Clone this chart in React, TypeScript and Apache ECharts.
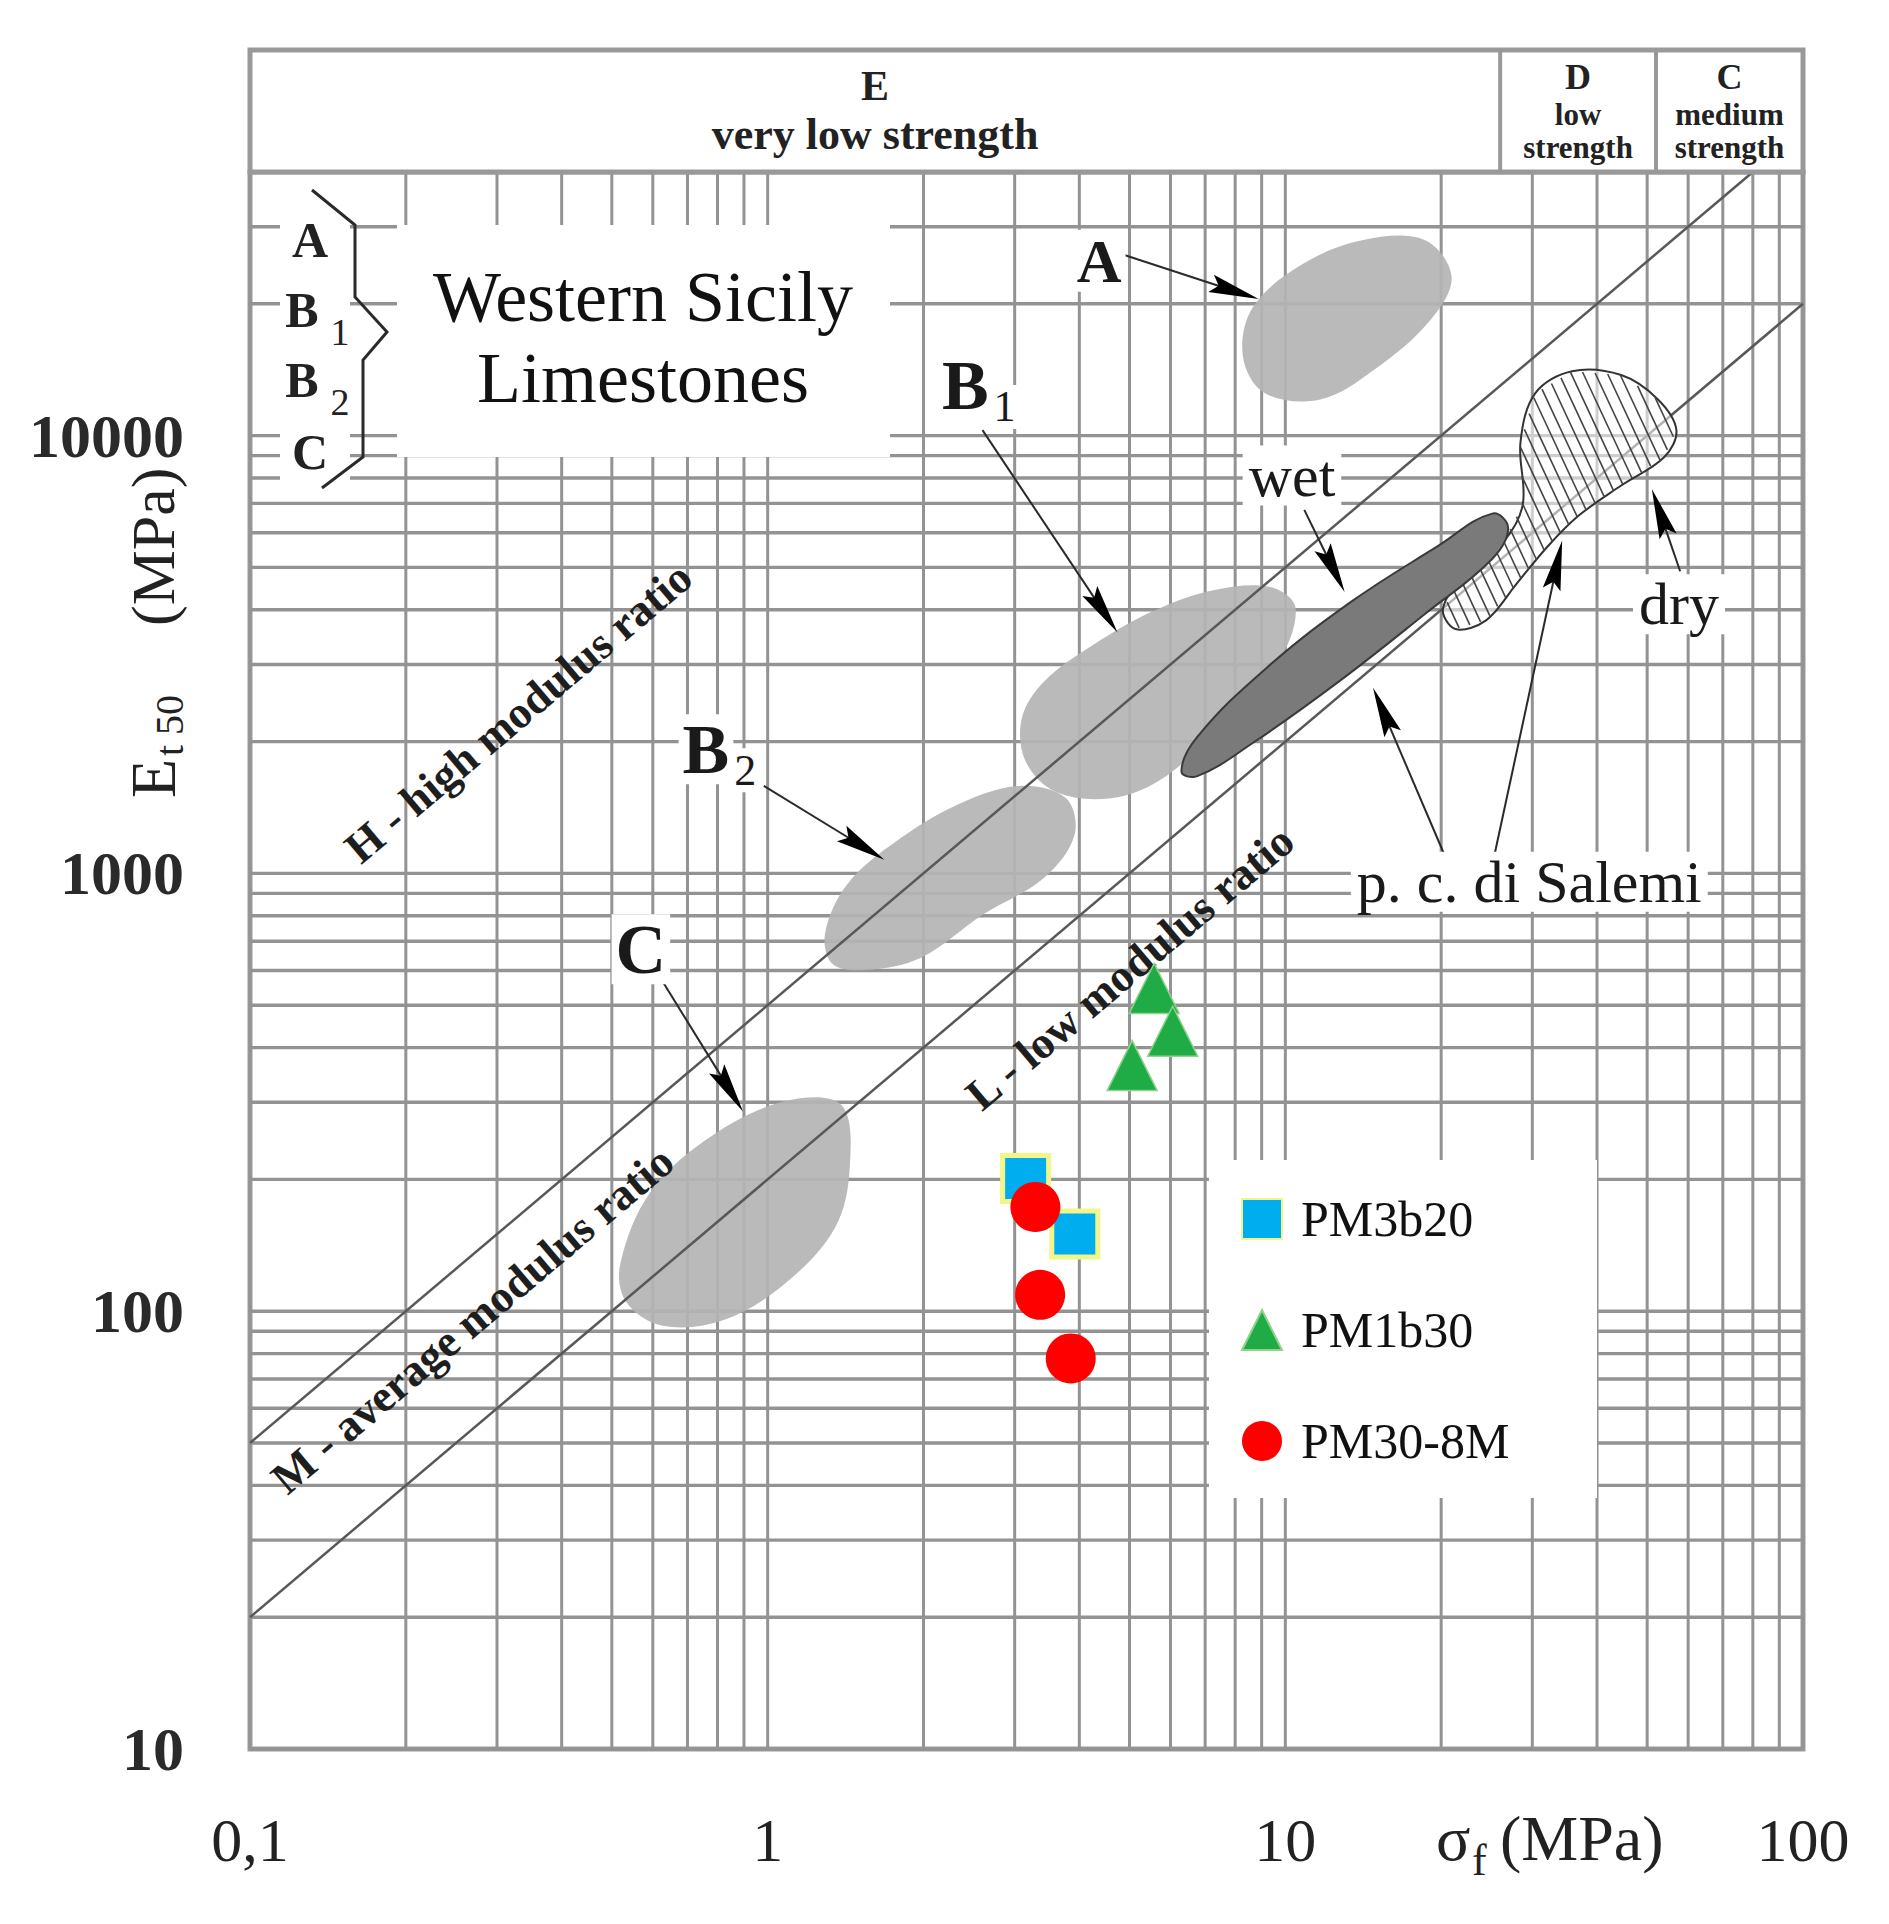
import React, { useEffect, useRef } from 'react';
import * as echarts from 'echarts';

const SERIF = '"Liberation Serif", "Times New Roman", serif';

// ---------------- data ----------------
const SERIES_NAMES = ['PM3b20', 'PM1b30', 'PM30-8M'];
const PM3B20_STRENGTH = [3.15, 3.92];
const PM3B20_MODULUS = [201, 150];
const PM1B30_STRENGTH = [5.58, 6.06, 5.06];
const PM1B30_MODULUS = [546, 436, 364];
const PM308M_STRENGTH = [3.29, 3.36, 3.85];
const PM308M_MODULUS = [173, 109, 78];

const X_TICK_VALUES = [0.1, 1, 10, 100];
const X_TICK_LABELS = ['0,1', '1', '10', '100'];
const Y_TICK_VALUES = [10, 100, 1000, 10000];
const Y_TICK_LABELS = ['10', '100', '1000', '10000'];
const X_DECADES = [0.1, 1, 10];
const Y_DECADES = [10, 100, 1000, 10000];
const MINOR_STEPS = [1, 2, 3, 4, 5, 6, 7, 8, 9];
const X_MIN = 0.1;
const X_MAX = 100;
const Y_MIN = 10;
const Y_MAX = 40000;

const MODULUS_RATIOS = [500, 200]; // H|M and M|L boundaries (E / sigma)
const STRENGTH_LIMITS = [26, 52]; // E|D and D|C class boundaries (MPa)
const STRENGTH_CLASSES = [
  { letter: 'E', lines: ['very low strength'] },
  { letter: 'D', lines: ['low', 'strength'] },
  { letter: 'C', lines: ['medium', 'strength'] },
];

// zone outlines as (sigma MPa, E MPa)
const ZONE_A = [[8.65, 19620], [10.76, 24580], [14.14, 27970], [18.58, 27970], [20.95, 23050], [19.09, 18390], [14.94, 14210], [11.68, 12090], [9.13, 12490], [8.28, 15150]];
const ZONE_B1 = [[3.096, 2258], [3.416, 2741], [4.25, 3325], [5.585, 3986], [7.34, 4447], [9.39, 4505], [10.47, 4036], [9.65, 3019], [7.14, 2050], [5.74, 1636], [4.61, 1485], [3.61, 1534], [3.15, 1802]];
const ZONE_B2 = [[1.291, 730], [1.425, 945], [1.774, 1185], [2.33, 1437], [3.063, 1584], [3.77, 1485], [3.915, 1224], [3.416, 976], [2.6, 804], [1.978, 642], [1.547, 602], [1.335, 621]];
const ZONE_C = [[0.519, 128], [0.595, 188], [0.782, 252], [1.084, 302], [1.387, 296], [1.441, 214], [1.349, 155], [1.084, 116], [0.825, 95.6], [0.628, 92.6], [0.533, 105]];
const ZONE_WET = [[6.3, 1711], [6.76, 2050], [9.13, 2924], [13.39, 4169], [19.63, 5574], [25.09, 6634], [26.94, 6139], [25.09, 5226], [18.58, 3908], [12.68, 2741], [8.65, 1985], [6.76, 1668]];
const ZONE_DRY = [[20.17, 4036], [22.5, 4899], [26.5, 5757], [28.77, 6987], [28.46, 9646], [30.38, 12490], [35.8, 14030], [44.54, 13750], [52.47, 12090], [56.94, 10290], [53.9, 8925], [44.54, 7692], [36.78, 6549], [32.08, 5574], [27.99, 4592], [24.42, 3784], [21.3, 3617]];
const LIGHT_ZONES = [ZONE_A, ZONE_B1, ZONE_B2, ZONE_C];

// annotation arrows (from -> to), in (sigma, E)
const ARROW_FROM = [[4.87, 25890], [2.6, 10290], [0.983, 1584], [0.628, 564], [10.88, 6765], [57.9, 4899], [20.72, 1041], [25.09, 1041]];
const ARROW_TO = [[8.88, 20520], [4.74, 3548], [1.68, 1075], [0.896, 286], [13.02, 4390], [51.05, 7548], [14.77, 2654], [34.26, 5757]];

// zone labels
const LABEL_TEXT = ['A', 'B', 'B', 'C', 'wet', 'dry', 'p. c. di Salemi'];
const LABEL_SUB = ['', '1', '2', '', '', '', ''];
const LABEL_AT = [[4.37, 25070], [2.408, 12980], [0.76, 1922], [0.569, 671], [10.3, 8104], [57.6, 4116], [29.6, 957]];

const RATIO_LABEL_TEXT = ['H - high modulus ratio', 'M - average modulus ratio', 'L - low modulus ratio'];
const RATIO_LABEL_AT = [[0.33, 2332], [0.269, 95.6], [5.01, 609]];

// ---------------- helpers ----------------
const X_GRID = X_DECADES.flatMap((d) => MINOR_STEPS.map((k) => k * d)).concat([X_MAX]);
const Y_GRID = Y_DECADES.flatMap((d) => MINOR_STEPS.map((k) => k * d)).filter((v) => v <= Y_MAX * 1.0001);

function matchTick(v: number, ticks: number[]) {
  return ticks.findIndex((t) => Math.abs(Math.log10(t) - Math.log10(v)) < 1e-6);
}

function hatchSegments(pts: number[][], angleDeg: number, step: number) {
  const a = (angleDeg * Math.PI) / 180;
  const d = [Math.cos(a), Math.sin(a)];
  const n = [-d[1], d[0]];
  const proj = pts.map((p) => p[0] * n[0] + p[1] * n[1]);
  const cMin = Math.min(...proj);
  const cMax = Math.max(...proj);
  const segs: number[][][] = [];
  for (let c = cMin + step / 2; c < cMax; c += step) {
    const hits: number[][] = [];
    for (let i = 0; i < pts.length; i++) {
      const j = (i + 1) % pts.length;
      const fp = proj[i] - c;
      const fq = proj[j] - c;
      if (fp < 0 !== fq < 0) {
        const t = fp / (fp - fq);
        const x = pts[i][0] + (pts[j][0] - pts[i][0]) * t;
        const y = pts[i][1] + (pts[j][1] - pts[i][1]) * t;
        hits.push([x, y, x * d[0] + y * d[1]]);
      }
    }
    hits.sort((u, v) => u[2] - v[2]);
    for (let k = 0; k + 1 < hits.length; k += 2) segs.push([hits[k], hits[k + 1]]);
  }
  return segs;
}

function buildOption(): any {
  const GRID_LEFT = 250;
  const GRID_TOP = 172;
  const GRID_W = 1553;
  const GRID_H = 1577;
  const lineAngle = Math.atan((GRID_H / Math.log10(Y_MAX / Y_MIN)) / (GRID_W / Math.log10(X_MAX / X_MIN)));
  const GRID_COLOR = '#939393';

  const gridSeries = {
    type: 'custom',
    silent: true,
    z: 1,
    data: [[1, 100]],
    renderItem: (params: any, api: any) => {
      const cs = params.coordSys;
      const children: any[] = [];
      X_GRID.forEach((v) => {
        const x = api.coord([v, 100])[0];
        children.push({ type: 'line', shape: { x1: x, y1: cs.y, x2: x, y2: cs.y + cs.height }, style: { stroke: GRID_COLOR, lineWidth: 3 } });
      });
      Y_GRID.forEach((v) => {
        const y = api.coord([1, v])[1];
        children.push({ type: 'line', shape: { x1: cs.x, y1: y, x2: cs.x + cs.width, y2: y }, style: { stroke: GRID_COLOR, lineWidth: 3.4 } });
      });
      return { type: 'group', children };
    },
  };

  const headerSeries = {
    type: 'custom',
    silent: true,
    z: 6,
    clip: false,
    data: [[1, Y_MAX]],
    renderItem: (params: any, api: any) => {
      const cs = params.coordSys;
      const h = 122;
      const top = cs.y - h;
      const xs = [cs.x, ...STRENGTH_LIMITS.map((v) => api.coord([v, Y_MAX])[0]), cs.x + cs.width];
      const children: any[] = [
        { type: 'rect', shape: { x: cs.x, y: top, width: cs.width, height: h }, style: { fill: '#fff', stroke: '#999', lineWidth: 5 } },
      ];
      STRENGTH_LIMITS.forEach((_, i) => {
        children.push({ type: 'line', shape: { x1: xs[i + 1], y1: top, x2: xs[i + 1], y2: cs.y }, style: { stroke: '#999', lineWidth: 4 } });
      });
      STRENGTH_CLASSES.forEach((c, i) => {
        const cx = (xs[i] + xs[i + 1]) / 2;
        const single = c.lines.length === 1;
        children.push({
          type: 'text', x: cx, y: top + (single ? 36 : 27),
          style: { text: c.letter, fontFamily: SERIF, fontWeight: 'bold', fontSize: single ? 42 : 36, fill: '#222', align: 'center', verticalAlign: 'middle' },
        });
        c.lines.forEach((ln, k) => {
          children.push({
            type: 'text', x: cx, y: single ? top + 84 : top + 64 + k * 33,
            style: { text: ln, fontFamily: SERIF, fontWeight: 'bold', fontSize: single ? 44 : 31, fill: '#222', align: 'center', verticalAlign: 'middle' },
          });
        });
      });
      return { type: 'group', children };
    },
  };

  const zoneSeries = {
    type: 'custom',
    silent: true,
    z: 2,
    data: LIGHT_ZONES.map((z) => z[0]),
    renderItem: (params: any, api: any) => {
      const pts = LIGHT_ZONES[params.dataIndex].map((p) => api.coord(p));
      return { type: 'polygon', shape: { points: pts, smooth: 0.35 }, style: { fill: '#b4b4b4', opacity: 0.92 } };
    },
  };

  const ratioLines = MODULUS_RATIOS.map((r) => {
    const xEnd = Math.min(X_MAX, Y_MAX / r);
    return {
      type: 'line',
      silent: true,
      z: 3,
      symbol: 'none',
      data: [[X_MIN, r * X_MIN], [xEnd, r * xEnd]],
      lineStyle: { color: '#585858', width: 2.5 },
    };
  });

  const wetDrySeries = {
    type: 'custom',
    silent: true,
    z: 4,
    data: [ZONE_DRY[0], ZONE_WET[0]],
    renderItem: (params: any, api: any) => {
      if (params.dataIndex === 0) {
        const pts = ZONE_DRY.map((p) => api.coord(p));
        const segs = hatchSegments(pts, 65, 11);
        return {
          type: 'group',
          children: [
            { type: 'polygon', shape: { points: pts, smooth: 0.35 }, style: { fill: 'rgba(255,255,255,0.55)', stroke: '#333', lineWidth: 2 } },
            ...segs.map((s) => ({ type: 'line', shape: { x1: s[0][0], y1: s[0][1], x2: s[1][0], y2: s[1][1] }, style: { stroke: '#444', lineWidth: 1.6 } })),
          ],
        };
      }
      const pts = ZONE_WET.map((p) => api.coord(p));
      return { type: 'polygon', shape: { points: pts, smooth: 0.4 }, style: { fill: '#7a7a7a', stroke: '#3a3a3a', lineWidth: 2 } };
    },
  };

  const arrowSeries = {
    type: 'custom',
    silent: true,
    z: 5,
    data: ARROW_TO,
    renderItem: (params: any, api: any) => {
      const p0 = api.coord(ARROW_FROM[params.dataIndex]);
      const p1 = api.coord(ARROW_TO[params.dataIndex]);
      const dx = p1[0] - p0[0];
      const dy = p1[1] - p0[1];
      const len = Math.hypot(dx, dy);
      const ux = dx / len;
      const uy = dy / len;
      const L = 50;
      const W = 9;
      const bx = p1[0] - ux * L;
      const by = p1[1] - uy * L;
      return {
        type: 'group',
        children: [
          { type: 'line', shape: { x1: p0[0], y1: p0[1], x2: bx + ux * 10, y2: by + uy * 10 }, style: { stroke: '#2a2a2a', lineWidth: 2 } },
          { type: 'polygon', shape: { points: [[p1[0], p1[1]], [bx - uy * W, by + ux * W], [bx + ux * 8, by + uy * 8], [bx + uy * W, by - ux * W]] }, style: { fill: '#000' } },
        ],
      };
    },
  };

  const labelSeries = {
    type: 'custom',
    silent: true,
    z: 7,
    data: LABEL_AT,
    renderItem: (params: any, api: any) => {
      const i = params.dataIndex;
      const p = api.coord(LABEL_AT[i]);
      const text = LABEL_TEXT[i];
      const isLetter = text.length === 1;
      const size = isLetter ? (text === 'A' ? 62 : 70) : 60;
      const children: any[] = [
        {
          type: 'text', x: p[0], y: p[1],
          style: {
            text, fontFamily: SERIF, fontWeight: isLetter ? 'bold' : 'normal', fontSize: size, fill: '#1a1a1a',
            align: 'center', verticalAlign: 'middle', backgroundColor: '#fff', padding: isLetter ? [0, 4] : [0, 6],
          },
        },
      ];
      if (LABEL_SUB[i]) {
        children.push({
          type: 'text', x: p[0] + size * 0.36, y: p[1] + size * 0.3,
          style: { text: LABEL_SUB[i], fontFamily: SERIF, fontSize: 44, fill: '#1a1a1a', align: 'left', verticalAlign: 'middle', backgroundColor: '#fff', padding: [0, 3] },
        });
      }
      return { type: 'group', children };
    },
  };

  const ratioLabelSeries = {
    type: 'custom',
    silent: true,
    z: 7,
    data: RATIO_LABEL_AT,
    renderItem: (params: any, api: any) => {
      const p = api.coord(RATIO_LABEL_AT[params.dataIndex]);
      return {
        type: 'text', x: p[0], y: p[1], rotation: lineAngle,
        style: { text: RATIO_LABEL_TEXT[params.dataIndex], fontFamily: SERIF, fontWeight: 'bold', fontSize: 45, fill: '#1e1e1e', align: 'center', verticalAlign: 'middle' },
      };
    },
  };

  const scatter = [
    {
      type: 'scatter', name: SERIES_NAMES[0], z: 30, symbol: 'rect', symbolSize: 46,
      data: PM3B20_STRENGTH.map((s, i) => [s, PM3B20_MODULUS[i]]),
      itemStyle: { color: '#00aeef', borderColor: '#f2f58a', borderWidth: 5, opacity: 1 },
    },
    {
      type: 'scatter', name: SERIES_NAMES[1], z: 30, symbol: 'triangle', symbolSize: 50,
      data: PM1B30_STRENGTH.map((s, i) => [s, PM1B30_MODULUS[i]]),
      itemStyle: { color: '#1fac47', borderColor: '#8fd38a', borderWidth: 1.5, opacity: 1 },
    },
    {
      type: 'scatter', name: SERIES_NAMES[2], z: 31, symbol: 'circle', symbolSize: 50,
      data: PM308M_STRENGTH.map((s, i) => [s, PM308M_MODULUS[i]]),
      itemStyle: { color: '#ff0000', opacity: 1 },
    },
  ];

  const bracketLetters = [
    { t: 'A', x: 310, y: 240 },
    { t: 'B', x: 302, y: 310 },
    { t: 'B', x: 302, y: 380 },
    { t: 'C', x: 310, y: 452 },
  ];
  const bracketSubs = [
    { t: '1', x: 340, y: 332 },
    { t: '2', x: 340, y: 402 },
  ];

  const graphic = [
    // Western Sicily box
    { type: 'rect', z: 20, shape: { x: 397, y: 225, width: 493, height: 232 }, style: { fill: '#fff' } },
    { type: 'text', z: 21, x: 643, y: 297, style: { text: 'Western Sicily', fontFamily: SERIF, fontSize: 72, fill: '#111', align: 'center', verticalAlign: 'middle' } },
    { type: 'text', z: 21, x: 643, y: 378, style: { text: 'Limestones', fontFamily: SERIF, fontSize: 72, fill: '#111', align: 'center', verticalAlign: 'middle' } },
    // bracket labels
    { type: 'rect', z: 20, shape: { x: 280, y: 205, width: 70, height: 275 }, style: { fill: '#fff' } },
    ...bracketLetters.map((b) => ({ type: 'text', z: 21, x: b.x, y: b.y, style: { text: b.t, fontFamily: SERIF, fontWeight: 'bold', fontSize: 50, fill: '#222', align: 'center', verticalAlign: 'middle' } })),
    ...bracketSubs.map((b) => ({ type: 'text', z: 21, x: b.x, y: b.y, style: { text: b.t, fontFamily: SERIF, fontSize: 38, fill: '#222', align: 'center', verticalAlign: 'middle' } })),
    {
      type: 'polyline', z: 21,
      shape: { points: [[312, 190], [355, 225], [355, 297], [387, 332], [363, 360], [363, 457], [322, 488]] },
      style: { stroke: '#2a2a2a', lineWidth: 3, fill: 'none' },
    },
    // legend box
    { type: 'rect', z: 20, shape: { x: 1209, y: 1160, width: 388, height: 338 }, style: { fill: '#fff' } },
    // y axis name
    {
      type: 'group', x: 153, y: 632, rotation: Math.PI / 2, z: 21,
      children: [
        { type: 'text', x: -166, y: 0, style: { text: 'E', fontFamily: SERIF, fontSize: 64, fill: '#222', align: 'left', verticalAlign: 'middle' } },
        { type: 'text', x: -124, y: 16, style: { text: 't 50', fontFamily: SERIF, fontSize: 40, fill: '#222', align: 'left', verticalAlign: 'middle' } },
        { type: 'text', x: 6, y: 0, style: { text: '(MPa)', fontFamily: SERIF, fontSize: 62, fill: '#222', align: 'left', verticalAlign: 'middle' } },
      ],
    },
    // x axis name
    { type: 'text', z: 21, x: 1436, y: 1838, style: { text: 'σ', fontFamily: SERIF, fontSize: 64, fill: '#222', align: 'left', verticalAlign: 'middle' } },
    { type: 'text', z: 21, x: 1472, y: 1860, style: { text: 'f', fontFamily: SERIF, fontSize: 44, fill: '#222', align: 'left', verticalAlign: 'middle' } },
    { type: 'text', z: 21, x: 1500, y: 1838, style: { text: '(MPa)', fontFamily: SERIF, fontSize: 64, fill: '#222', align: 'left', verticalAlign: 'middle' } },
  ];

  return {
    animation: false,
    backgroundColor: '#fff',
    textStyle: { fontFamily: SERIF },
    grid: { left: GRID_LEFT, top: GRID_TOP, width: GRID_W, height: GRID_H, show: true, borderColor: '#9c9c9c', borderWidth: 5, backgroundColor: 'transparent' },
    xAxis: {
      type: 'log', logBase: 10, min: X_MIN, max: X_MAX,
      axisLine: { show: false }, axisTick: { show: false }, splitLine: { show: false },
      axisLabel: {
        margin: 60, fontSize: 62, color: '#222', fontFamily: SERIF,
        formatter: (v: number) => { const i = matchTick(v, X_TICK_VALUES); return i >= 0 ? X_TICK_LABELS[i] : ''; },
      },
    },
    yAxis: {
      type: 'log', logBase: 10, min: Y_MIN, max: Y_MAX,
      axisLine: { show: false }, axisTick: { show: false }, splitLine: { show: false },
      axisLabel: {
        margin: 66, fontSize: 62, fontWeight: 'bold', color: '#2a2a2a', fontFamily: SERIF,
        formatter: (v: number) => { const i = matchTick(v, Y_TICK_VALUES); return i >= 0 ? Y_TICK_LABELS[i] : ''; },
      },
    },
    legend: {
      data: SERIES_NAMES, orient: 'vertical', left: 1236, top: 1189, z: 50,
      itemWidth: 40, itemHeight: 40, itemGap: 61, selectedMode: false,
      textStyle: { fontFamily: SERIF, fontSize: 50, lineHeight: 44, color: '#111', padding: [0, 0, 0, 14] },
    },
    graphic,
    series: [gridSeries, zoneSeries, ...ratioLines, wetDrySeries, arrowSeries, labelSeries, ratioLabelSeries, headerSeries, ...scatter],
  };
}

export default function App() {
  const ref = useRef<HTMLDivElement>(null);
  useEffect(() => {
    document.body.style.margin = '0';
    const chart = echarts.init(ref.current as HTMLDivElement, undefined, { renderer: 'svg' });
    chart.setOption(buildOption());
    return () => chart.dispose();
  }, []);
  return <div ref={ref} style={{ width: 1889, height: 1924 }} />;
}
